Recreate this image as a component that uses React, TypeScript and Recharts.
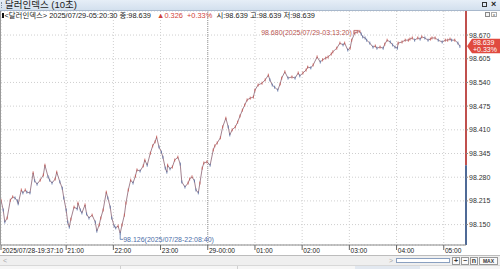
import React from 'react';
import { ComposedChart, Line, XAxis, YAxis, CartesianGrid, ReferenceLine, ReferenceDot } from 'recharts';

const FONT = "'Liberation Sans', Arial, 'Noto Sans CJK KR', sans-serif";

const times = [
  '19:37:10','19:40','19:42','19:45','19:49','19:52','19:55','19:58','19:59','20:03','20:05','20:08','20:10','20:14','20:18','20:20','20:23','20:27','20:31','20:33','20:37','20:39','20:42','20:46','20:48','20:52','20:55','20:57',
  '21:00','21:02','21:04','21:06','21:10','21:14','21:15','21:18','21:20','21:24','21:26','21:29','21:33','21:37','21:39','21:42','21:44','21:47','21:51','21:53','21:56','21:58',
  '22:01','22:03','22:06','22:08:40','22:11','22:14','22:16','22:19','22:22','22:25','22:28','22:30','22:34','22:38','22:40','22:43','22:47','22:50','22:53','22:55','22:58',
  '23:01','23:03','23:06','23:08','23:09','23:12','23:15','23:18','23:22','23:25','23:27','23:31','23:35','23:37','23:40','23:43','23:45','23:48','23:50','23:53','23:55','23:59',
  '00:03','00:07','00:09','00:12','00:16','00:19','00:23','00:26','00:28','00:31','00:35','00:38','00:41','00:44','00:47','00:50','00:54','00:58',
  '01:00','01:04','01:09','01:13','01:17','01:19','01:22','01:25','01:29','01:32','01:34','01:38','01:42','01:47','01:51','01:55','01:57',
  '02:01','02:05','02:07','02:11','02:14','02:19','02:23','02:26','02:30','02:33','02:37','02:39','02:44','02:48','02:52','02:54','02:58',
  '03:01','03:03','03:07','03:10','03:13:20','03:15','03:17','03:20','03:22','03:26','03:30','03:33','03:35','03:39','03:43','03:45','03:48','03:52','03:55','03:58',
  '04:01','04:02','04:07','04:11','04:15','04:17','04:20','04:23','04:27','04:30','04:32','04:36','04:40','04:43','04:45','04:49','04:53','04:58',
  '05:02','05:05','05:08','05:10','05:14','05:18','05:20:30'
];

const closes = [
  98.217,98.190,98.157,98.168,98.217,98.226,98.223,98.215,98.207,98.245,98.237,98.245,98.239,98.237,98.292,98.270,98.261,98.272,98.286,98.313,98.281,98.272,98.264,98.275,98.294,98.267,98.250,98.223,
  98.190,98.157,98.143,98.165,98.198,98.193,98.209,98.190,98.182,98.204,98.179,98.168,98.176,98.157,98.132,98.149,98.168,98.190,98.239,98.223,98.198,98.168,
  98.146,98.141,98.146,98.126,98.149,98.176,98.209,98.245,98.272,98.264,98.283,98.300,98.297,98.311,98.327,98.313,98.346,98.366,98.377,98.390,98.363,
  98.349,98.335,98.305,98.294,98.313,98.303,98.308,98.327,98.335,98.316,98.267,98.253,98.264,98.275,98.281,98.270,98.245,98.237,98.264,98.305,98.319,98.322,
  98.313,98.355,98.366,98.374,98.388,98.418,98.442,98.418,98.396,98.410,98.418,98.431,98.448,98.464,98.478,98.492,98.497,98.500,
  98.519,98.533,98.538,98.547,98.560,98.547,98.533,98.527,98.519,98.536,98.552,98.569,98.552,98.555,98.552,98.566,98.558,
  98.566,98.574,98.582,98.580,98.588,98.610,98.596,98.602,98.607,98.610,98.618,98.624,98.634,98.648,98.643,98.648,98.629,
  98.634,98.656,98.676,98.678,98.680,98.673,98.665,98.662,98.656,98.648,98.637,98.640,98.634,98.637,98.634,98.645,98.656,98.651,98.643,98.637,
  98.634,98.648,98.651,98.656,98.656,98.659,98.662,98.656,98.662,98.659,98.665,98.662,98.656,98.659,98.662,98.662,98.656,98.651,
  98.656,98.656,98.659,98.656,98.656,98.648,98.639
];

const xTickTimes = ['19:37:10', '21:00', '22:00', '23:00', '00:00', '01:00', '02:00', '03:00', '04:00', '05:00'];
const xTickLabels = ['2025/07/28-19:37:10', '21:00', '22:00', '23:00', '29-00:00', '01:00', '02:00', '03:00', '04:00', '05:00'];
const xDomainTimes = ['19:37:10', '05:28:17'];
const dayBreakTime = '00:00';
const yTicks = [98.15, 98.215, 98.28, 98.345, 98.41, 98.475, 98.54, 98.605, 98.67];
const yDomain = [98.094, 98.736];
const prevClose = 98.313;
const lastClose = 98.639;
const lastChangePct = '+0.33%';
const highTime = '03:13:20';
const highPrice = 98.68;
const highLabel = '98.680(2025/07/29-03:13:20)';
const lowTime = '22:08:40';
const lowPrice = 98.126;
const lowLabel = '98.126(2025/07/28-22:08:40)';

const RED = '#c85a55';
const BLUE = '#5a74a8';

function toMin(s: string): number {
  const parts = s.split(':').map(Number);
  const h = parts[0];
  const m = parts[1];
  const sec = parts[2] || 0;
  let v = h * 60 + m + sec / 60;
  if (h < 12) v += 1440;
  return v;
}

const data = times.map((t, i) => ({ t: toMin(t), close: closes[i] }));
const xTicks = xTickTimes.map(toMin);
const xDomain = xDomainTimes.map(toMin);

const CandleDot = (props: any) => {
  const { cx, cy, index } = props;
  if (cx == null || cy == null) return <g key={'d' + index} />;
  const up = index === 0 || closes[index] >= closes[index - 1];
  return <rect key={'d' + index} x={cx - 0.5} y={cy - 1.5} width={1} height={3} fill={up ? RED : BLUE} opacity={0.85} />;
};

const XTick = (props: any) => {
  const { x, y, payload } = props;
  const idx = xTicks.findIndex((v) => Math.abs(v - payload.value) < 0.01);
  const label = idx >= 0 ? xTickLabels[idx] : '';
  return (
    <g>
      <line x1={x} y1={y} x2={x} y2={y + 5} stroke="#666" strokeWidth={1} />
      <text x={x + 1.2} y={y + 8} fontSize={6.6} fill="#222" fontFamily={FONT}>{label}</text>
    </g>
  );
};

const HighLabel = (props: any) => {
  const vb = props.viewBox || {};
  const cx = vb.x + (vb.width || 0) / 2;
  const cy = vb.y + (vb.height || 0) / 2;
  return (
    <g>
      <polyline points={`${cx - 6},${cy + 3} ${cx - 6},${cy - 1} ${cx - 1},${cy - 1}`} fill="none" stroke="#b85450" strokeWidth={0.8} />
      <text x={cx - 8} y={cy + 4} fontSize={7} fill="#b85450" textAnchor="end" fontFamily={FONT}>{highLabel}</text>
    </g>
  );
};

const LowLabel = (props: any) => {
  const vb = props.viewBox || {};
  const cx = vb.x + (vb.width || 0) / 2;
  const cy = vb.y + (vb.height || 0) / 2;
  return (
    <g>
      <polyline points={`${cx},${cy + 1} ${cx},${cy + 6} ${cx + 3},${cy + 6}`} fill="none" stroke="#4d6ea8" strokeWidth={0.8} />
      <text x={cx + 3} y={cy + 8.5} fontSize={7} fill="#4d6ea8" fontFamily={FONT}>{lowLabel}</text>
    </g>
  );
};

const PriceBadge = (props: any) => {
  const vb = props.viewBox || {};
  const x0 = vb.x + (vb.width || 0) + 1;
  const y = vb.y;
  return (
    <g>
      <polygon points={`${x0},${y} ${x0 + 5},${y - 7.5} ${500},${y - 7.5} ${500},${y + 7} ${x0 + 5},${y + 7}`} fill="#e04a3f" />
      <text x={x0 + 6} y={y - 1} fontSize={7} fill="#fff" fontFamily={FONT}>{lastClose.toFixed(3)}</text>
      <text x={x0 + 6} y={y + 5.5} fontSize={7} fill="#fff" fontFamily={FONT}>{lastChangePct}</text>
    </g>
  );
};

export default function App() {
  return (
    <div style={{ position: 'fixed', left: 0, top: 0, width: 500, height: 269, background: '#fff', overflow: 'hidden', fontFamily: FONT }}>
      <div style={{ position: 'absolute', left: 0, top: 0 }}>
        <ComposedChart width={500} height={269} data={data} margin={{ top: 11, right: 0, bottom: 0, left: 1 }}>
          <CartesianGrid stroke="#cfcfcf" strokeDasharray="1 2" />
          <XAxis
            dataKey="t"
            type="number"
            domain={xDomain}
            ticks={xTicks}
            interval={0}
            allowDataOverflow
            height={24}
            tickSize={0}
            tickMargin={0}
            tickLine={false}
            axisLine={{ stroke: '#8a8a8a' }}
            tick={<XTick />}
          />
          <YAxis
            orientation="right"
            width={34}
            domain={yDomain}
            ticks={yTicks}
            interval={0}
            allowDataOverflow
            axisLine={false}
            tickLine={{ stroke: '#888' }}
            tickSize={2}
            tickMargin={1}
            tick={{ fontSize: 7, fill: '#333', fontFamily: FONT }}
            tickFormatter={(v: number) => v.toFixed(3)}
          />
          <ReferenceLine x={toMin(dayBreakTime)} stroke="#9a9a9a" strokeDasharray="1 1" />
          <ReferenceLine
            segment={[{ x: xDomain[1], y: prevClose }, { x: xDomain[1], y: yDomain[1] }]}
            stroke="#c0504d"
            strokeWidth={2}
            ifOverflow="visible"
          />
          <ReferenceLine
            segment={[{ x: xDomain[1], y: yDomain[0] }, { x: xDomain[1], y: prevClose }]}
            stroke="#4f6a96"
            strokeWidth={2}
            ifOverflow="visible"
          />
          <Line
            type="linear"
            dataKey="close"
            stroke="#8a6272"
            strokeWidth={0.8}
            dot={CandleDot}
            activeDot={false}
            isAnimationActive={false}
          />
          <ReferenceDot x={toMin(highTime)} y={highPrice} r={1} fill="none" stroke="none" label={<HighLabel />} />
          <ReferenceDot x={toMin(lowTime)} y={lowPrice} r={1} fill="none" stroke="none" label={<LowLabel />} />
          <ReferenceLine y={lastClose} stroke="none" ifOverflow="visible" label={<PriceBadge />} />
        </ComposedChart>
      </div>

      {/* left border */}
      <div style={{ position: 'absolute', left: 0, top: 11, width: 1, height: 234, background: '#9a9a9a' }} />

      {/* title bar */}
      <div style={{ position: 'absolute', left: 0, top: 0, width: 500, height: 10, background: 'linear-gradient(#e6eef7, #d3e0ee)', borderBottom: '1px solid #a8b8cc' }}>
        <div style={{ position: 'absolute', left: 1, top: 2, width: 1, height: 6, borderLeft: '1px dotted #7f8fa0' }} />
        <span style={{ position: 'absolute', left: 5, top: 0, fontSize: 9.5, lineHeight: '10px', color: '#1a1a1a', whiteSpace: 'nowrap' }}>달러인덱스 (10초)</span>
        <div style={{ position: 'absolute', left: 482, top: 2, width: 5, height: 5, border: '1px solid #333', boxSizing: 'border-box' }} />
        <span style={{ position: 'absolute', left: 491, top: -1, fontSize: 9, lineHeight: '10px', color: '#222', fontWeight: 'bold' }}>×</span>
      </div>

      {/* info line */}
      <div style={{ position: 'absolute', left: 2, top: 11, fontSize: 7.4, lineHeight: '9px', color: '#222', whiteSpace: 'nowrap' }}>
        <span style={{ display: 'inline-block', width: 1.5, height: 5, background: '#111', marginRight: 1 }} />
        &lt;달러인덱스&gt; 2025/07/29-05:20:30 종:98.639&nbsp;&nbsp;&nbsp;
        <span style={{ color: '#d0433a' }}>▲0.326&nbsp;&nbsp;+0.33%</span>&nbsp;&nbsp;시:98.639 고:98.639 저:98.639
      </div>
      <div style={{ position: 'absolute', left: 485, top: 12, width: 5, height: 5, border: '1px solid #888', boxSizing: 'border-box', background: '#f4f4f4' }} />
      <div style={{ position: 'absolute', left: 491, top: 12, width: 6, height: 5, border: '1px solid #aaa', boxSizing: 'border-box', fontSize: 5, lineHeight: '4px', color: '#666', textAlign: 'center' }}>×</div>

      {/* scroll row */}
      <div style={{ position: 'absolute', left: 0, top: 255, width: 500, height: 10, background: '#efefef', borderTop: '1px solid #bcbcbc', boxSizing: 'border-box' }}>
        <span style={{ position: 'absolute', left: 3, top: 0, fontSize: 7, lineHeight: '9px', color: '#aaa' }}>&lt;</span>
        <span style={{ position: 'absolute', left: 389, top: 0, fontSize: 7, lineHeight: '9px', color: '#aaa' }}>&gt;</span>
        <div style={{ position: 'absolute', left: 396, top: 2, width: 54, height: 5, background: '#fff', border: '1px solid #8aa0c0', boxSizing: 'border-box' }} />
        {['+', '−', 'n', 'MAX'].map((b, i) => (
          <div key={b} style={{ position: 'absolute', left: [452, 461, 470, 479][i], top: 1, width: [8, 8, 8, 19][i], height: 8, border: '1px solid #999', boxSizing: 'border-box', background: '#fafafa', fontSize: i === 3 ? 5 : 7, lineHeight: '6px', textAlign: 'center', fontWeight: 'bold', color: '#333' }}>{b}</div>
        ))}
      </div>
      {/* bottom strip */}
      <div style={{ position: 'absolute', left: 0, top: 265, width: 500, height: 4, background: '#f6f6f6', borderTop: '1px solid #d8d8d8', boxSizing: 'border-box' }}>
        <div style={{ position: 'absolute', left: 120, top: 0, width: 1, height: 4, background: '#d0d0d0' }} />
        <div style={{ position: 'absolute', left: 237, top: 0, width: 1, height: 4, background: '#d0d0d0' }} />
        <div style={{ position: 'absolute', left: 355, top: 0, width: 65, height: 4, background: '#e2e8f0' }} />
      </div>
    </div>
  );
}
